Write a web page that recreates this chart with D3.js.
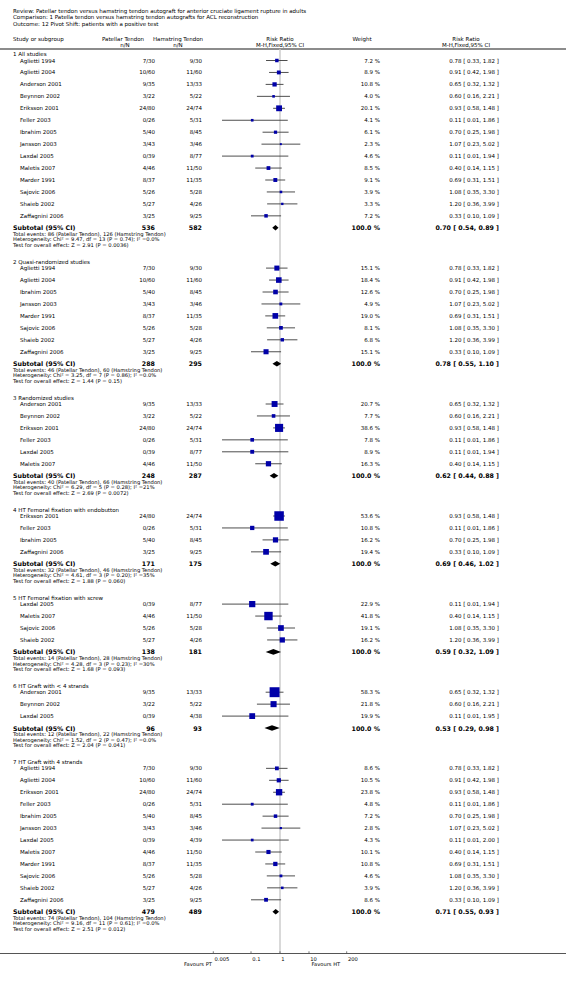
<!DOCTYPE html>
<html><head><meta charset="utf-8">
<script src="https://cdn.jsdelivr.net/npm/d3@7"></script>
<style>
html,body{margin:0;padding:0;background:#fff;}
svg{display:block;}
text{font-family:"DejaVu Sans",Verdana,sans-serif;fill:#000;}
</style></head>
<body>
<script>
// ---------------- DATA ----------------
const headerLines = [
  "Review:  Patellar tendon versus hamstring tendon autograft for anterior cruciate ligament rupture in adults",
  "Comparison:  1 Patella tendon versus hamstring tendon autografts for ACL reconstruction",
  "Outcome:  12 Pivot Shift: patients with a positive test"
];
const sectionTitles = [
  "1 All studies",
  "2 Quasi-randomized studies",
  "3 Randomized studies",
  "4 HT Femoral fixation with endobutton",
  "5 HT Femoral fixation with screw",
  "6 HT Graft with < 4 strands",
  "7 HT Graft with 4 strands"
];
const studyNames = [
  ["Aglietti 1994","Aglietti 2004","Anderson 2001","Beynnon 2002","Eriksson 2001","Feller 2003","Ibrahim 2005","Jansson 2003","Laxdal 2005","Maletis 2007","Marder 1991","Sajovic 2006","Shaieb 2002","Zaffagnini 2006"],
  ["Aglietti 1994","Aglietti 2004","Ibrahim 2005","Jansson 2003","Marder 1991","Sajovic 2006","Shaieb 2002","Zaffagnini 2006"],
  ["Anderson 2001","Beynnon 2002","Eriksson 2001","Feller 2003","Laxdal 2005","Maletis 2007"],
  ["Eriksson 2001","Feller 2003","Ibrahim 2005","Zaffagnini 2006"],
  ["Laxdal 2005","Maletis 2007","Sajovic 2006","Shaieb 2002"],
  ["Anderson 2001","Beynnon 2002","Laxdal 2005"],
  ["Aglietti 1994","Aglietti 2004","Eriksson 2001","Feller 2003","Ibrahim 2005","Jansson 2003","Laxdal 2005","Maletis 2007","Marder 1991","Sajovic 2006","Shaieb 2002","Zaffagnini 2006"]
];
const ptCounts = [
  ["7/30","10/60","9/35","3/22","24/80","0/26","5/40","3/43","0/39","4/46","8/37","5/26","5/27","3/25"],
  ["7/30","10/60","5/40","3/43","8/37","5/26","5/27","3/25"],
  ["9/35","3/22","24/80","0/26","0/39","4/46"],
  ["24/80","0/26","5/40","3/25"],
  ["0/39","4/46","5/26","5/27"],
  ["9/35","3/22","0/39"],
  ["7/30","10/60","24/80","0/26","5/40","3/43","0/39","4/46","8/37","5/26","5/27","3/25"]
];
const htCounts = [
  ["9/30","11/60","13/33","5/22","24/74","5/31","8/45","3/46","8/77","11/50","11/35","5/28","4/26","9/25"],
  ["9/30","11/60","8/45","3/46","11/35","5/28","4/26","9/25"],
  ["13/33","5/22","24/74","5/31","8/77","11/50"],
  ["24/74","5/31","8/45","9/25"],
  ["8/77","11/50","5/28","4/26"],
  ["13/33","5/22","4/38"],
  ["9/30","11/60","24/74","5/31","8/45","3/46","4/39","11/50","11/35","5/28","4/26","9/25"]
];
const weights = [
  [7.2,8.9,10.8,4.0,20.1,4.1,6.1,2.3,4.6,8.5,9.1,3.9,3.3,7.2],
  [15.1,18.4,12.6,4.9,19.0,8.1,6.8,15.1],
  [20.7,7.7,38.6,7.8,8.9,16.3],
  [53.6,10.8,16.2,19.4],
  [22.9,41.8,19.1,16.2],
  [58.3,21.8,19.9],
  [8.6,10.5,23.8,4.8,7.2,2.8,4.3,10.1,10.8,4.6,3.9,8.6]
];
const riskRatios = [
  [0.78,0.91,0.65,0.60,0.93,0.11,0.70,1.07,0.11,0.40,0.69,1.08,1.20,0.33],
  [0.78,0.91,0.70,1.07,0.69,1.08,1.20,0.33],
  [0.65,0.60,0.93,0.11,0.11,0.40],
  [0.93,0.11,0.70,0.33],
  [0.11,0.40,1.08,1.20],
  [0.65,0.60,0.11],
  [0.78,0.91,0.93,0.11,0.70,1.07,0.11,0.40,0.69,1.08,1.20,0.33]
];
const ciLower = [
  [0.33,0.42,0.32,0.16,0.58,0.01,0.25,0.23,0.01,0.14,0.31,0.35,0.36,0.10],
  [0.33,0.42,0.25,0.23,0.31,0.35,0.36,0.10],
  [0.32,0.16,0.58,0.01,0.01,0.14],
  [0.58,0.01,0.25,0.10],
  [0.01,0.14,0.35,0.36],
  [0.32,0.16,0.01],
  [0.33,0.42,0.58,0.01,0.25,0.23,0.01,0.14,0.31,0.35,0.36,0.10]
];
const ciUpper = [
  [1.82,1.98,1.32,2.21,1.48,1.86,1.98,5.02,1.94,1.15,1.51,3.30,3.99,1.09],
  [1.82,1.98,1.98,5.02,1.51,3.30,3.99,1.09],
  [1.32,2.21,1.48,1.86,1.94,1.15],
  [1.48,1.86,1.98,1.09],
  [1.94,1.15,3.30,3.99],
  [1.32,2.21,1.95],
  [1.82,1.98,1.48,1.86,1.98,5.02,2.00,1.15,1.51,3.30,3.99,1.09]
];
const subtotalPT = [536,288,248,171,138,96,479];
const subtotalHT = [582,295,287,175,181,93,489];
const subtotalRR = [0.70,0.78,0.62,0.69,0.59,0.53,0.71];
const subtotalLo = [0.54,0.55,0.44,0.46,0.32,0.29,0.55];
const subtotalHi = [0.89,1.10,0.88,1.02,1.09,0.98,0.93];
const eventsPT = [86,46,40,32,14,12,74];
const eventsHT = [126,60,66,46,28,22,104];
const chiSq = ["9.47","3.25","6.29","4.61","4.28","1.52","9.16"];
const dfs = [13,7,5,3,3,2,11];
const pHet = ["0.74","0.86","0.28","0.20","0.23","0.47","0.61"];
const iSq = ["0.0%","0.0%","21%","35%","30%","0.0%","0.0%"];
const zVals = ["2.91","1.44","2.69","1.88","1.68","2.04","2.51"];
const pZ = ["0.0036","0.15","0.0072","0.060","0.093","0.041","0.012"];
const tickValues = [0.005,0.1,1,10,200];
const tickLabels = ["0.005","0.1","1","10","200"];
const favoursLeft = "Favours PT";
const favoursRight = "Favours HT";

// ---------------- DRAW ----------------
const W = 566, H = 984;
const svg = d3.select("body").append("svg").attr("width", W).attr("height", H);
svg.append("rect").attr("width", W).attr("height", H).attr("fill", "#fff");

const x = d3.scaleLog().domain([0.005, 200]).range([213.3, 346.7]);
const FS = 5.5;
const colPT = 155, colHT = 202, colW = 380, colCI = 499, colName = 20, colLeft = 13;

// header lines
svg.selectAll("text.hdr").data(headerLines).enter().append("text")
  .attr("x", colLeft).attr("y", (d,i)=> [11,17.3,23.8][i])
  .attr("dominant-baseline","central").attr("font-size", FS).text(d=>d);

// column headers
const ch = svg.append("g").attr("font-size", FS);
function hText(tx, ty, s, anchor){ ch.append("text").attr("x",tx).attr("y",ty).attr("text-anchor",anchor||"middle").attr("dominant-baseline","central").text(s); }
hText(colLeft, 39, "Study or subgroup", "start");
hText(123, 39, "Patellar Tendon"); hText(125, 44.5, "n/N");
hText(178, 39, "Hamstring Tendon"); hText(178, 44.5, "n/N");
hText(280, 39, "Risk Ratio"); hText(280, 44.5, "M-H,Fixed,95% CI");
hText(362, 39, "Weight");
hText(466, 39, "Risk Ratio"); hText(466, 44.5, "M-H,Fixed,95% CI");

svg.append("line").attr("x1",0).attr("x2",W).attr("y1",49).attr("y2",49)
  .attr("stroke","#666").attr("stroke-width",1.3);

// axis line / null line
const axisY = 953.5;
svg.append("line").attr("x1", x(1)).attr("x2", x(1)).attr("y1", 49.6).attr("y2", axisY)
  .attr("stroke","#d9d9d9").attr("stroke-width",2);

// rows
const step = 11.95, secGap = 40.3;
let y = 60.5;
const fmt2 = d3.format(".2f");
const ciText = (r,l,h)=> `${fmt2(r)} [ ${fmt2(l)}, ${fmt2(h)} ]`;

sectionTitles.forEach((title, s) => {
  const g = svg.append("g").attr("font-size", FS);
  g.append("text").attr("x", colLeft).attr("y", y - 6.4).attr("dominant-baseline","central").text(title);
  const n = studyNames[s].length;
  studyNames[s].forEach((name, i) => {
    const yy = y + i*step;
    g.append("text").attr("x", colName).attr("y", yy).attr("dominant-baseline","central").text(name);
    g.append("text").attr("x", colPT).attr("y", yy).attr("text-anchor","end").attr("dominant-baseline","central").text(ptCounts[s][i]);
    g.append("text").attr("x", colHT).attr("y", yy).attr("text-anchor","end").attr("dominant-baseline","central").text(htCounts[s][i]);
    g.append("text").attr("x", colW).attr("y", yy).attr("text-anchor","end").attr("dominant-baseline","central").text(d3.format(".1f")(weights[s][i]) + " %");
    g.append("text").attr("x", colCI).attr("y", yy).attr("text-anchor","end").attr("dominant-baseline","central").text(ciText(riskRatios[s][i], ciLower[s][i], ciUpper[s][i]));
    // CI line
    g.append("line").attr("x1", x(ciLower[s][i])).attr("x2", x(ciUpper[s][i])).attr("y1", yy).attr("y2", yy)
      .attr("stroke","#3a3a3a").attr("stroke-width",0.9);
    const side = Math.max(1.2, 1.3*Math.sqrt(weights[s][i]));
    g.append("rect").attr("x", x(riskRatios[s][i]) - side/2).attr("y", yy - side/2)
      .attr("width", side).attr("height", side).attr("fill","#0000a8");
  });
  const sy = y + n*step;
  const bold = svg.append("g").attr("font-size", 6.3).attr("font-weight","bold");
  bold.append("text").attr("x", colLeft).attr("y", sy).attr("dominant-baseline","central").text("Subtotal (95% CI)");
  bold.append("text").attr("x", colPT).attr("y", sy).attr("text-anchor","end").attr("dominant-baseline","central").text(subtotalPT[s]);
  bold.append("text").attr("x", colHT).attr("y", sy).attr("text-anchor","end").attr("dominant-baseline","central").text(subtotalHT[s]);
  bold.append("text").attr("x", colW).attr("y", sy).attr("text-anchor","end").attr("dominant-baseline","central").text("100.0 %");
  bold.append("text").attr("x", colCI).attr("y", sy).attr("text-anchor","end").attr("dominant-baseline","central").text(ciText(subtotalRR[s], subtotalLo[s], subtotalHi[s]));
  // diamond
  const xl = x(subtotalLo[s]), xr = x(subtotalHi[s]), xm = x(subtotalRR[s]), hh = 2.8;
  svg.append("path").attr("d", `M${xl},${sy} L${xm},${sy-hh} L${xr},${sy} L${xm},${sy+hh} Z`).attr("fill","#000");
  // footnotes
  const notes = [
    `Total events: ${eventsPT[s]} (Patellar Tendon), ${eventsHT[s]} (Hamstring Tendon)`,
    `Heterogeneity: Chi² = ${chiSq[s]}, df = ${dfs[s]} (P = ${pHet[s]}); I² =${iSq[s]}`,
    `Test for overall effect: Z = ${zVals[s]} (P = ${pZ[s]})`
  ];
  const fg = svg.append("g").attr("font-size", 5.2);
  notes.forEach((t, k) => {
    fg.append("text").attr("x", colLeft).attr("y", sy + [6.2, 11.6, 17][k]).attr("dominant-baseline","central").text(t);
  });
  y = sy + secGap;
});

// bottom axis
svg.append("line").attr("x1",0).attr("x2",W).attr("y1",axisY).attr("y2",axisY)
  .attr("stroke","#555").attr("stroke-width",1);
const ax = svg.append("g");
tickValues.forEach((v,i)=>{
  ax.append("line").attr("x1",x(v)).attr("x2",x(v)).attr("y1",axisY-2.2).attr("y2",axisY).attr("stroke","#555").attr("stroke-width",0.8);
  ax.append("text").attr("x",x(v)+1.2).attr("y",958.6).attr("font-size",5.2).attr("dominant-baseline","central").text(tickLabels[i]);
});
ax.append("text").attr("x", 212).attr("y", 964.3).attr("text-anchor","end").attr("font-size",5.2).attr("dominant-baseline","central").text(favoursLeft);
ax.append("text").attr("x", 311.5).attr("y", 964.3).attr("text-anchor","start").attr("font-size",5.2).attr("dominant-baseline","central").text(favoursRight);
</script>
</body></html>
